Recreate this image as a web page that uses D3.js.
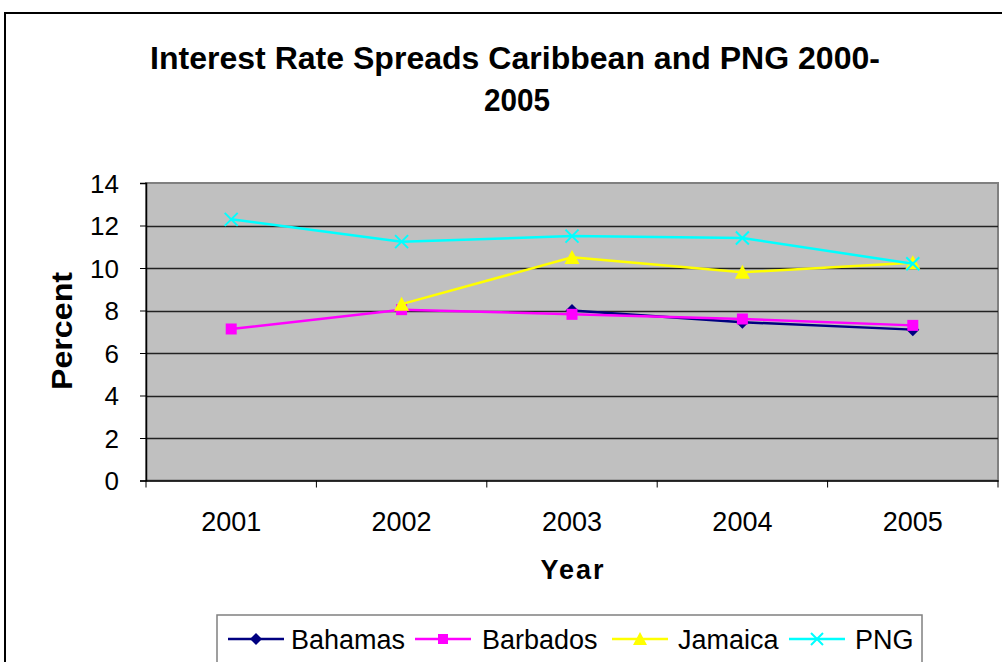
<!DOCTYPE html>
<html><head><meta charset="utf-8">
<script src="https://cdn.jsdelivr.net/npm/d3@7"></script>
<style>body{margin:0;background:#fff}svg{display:block}text{font-family:"Liberation Sans",Arial,sans-serif}</style>
</head><body>
<script>
const years = ["2001","2002","2003","2004","2005"];
const bahamas  = [null, null, 8.0, 7.45, 7.1];
const barbados = [7.13, 8.04, 7.82, 7.6, 7.3];
const jamaica  = [null, 8.3, 10.5, 9.8, 10.25];
const png      = [12.29, 11.24, 11.5, 11.41, 10.2];
const yTicks = [0,2,4,6,8,10,12,14];
const seriesNames = ["Bahamas","Barbados","Jamaica","PNG"];
const seriesColors = ["#000080","#FF00FF","#FFFF00","#00FFFF"];
const seriesMarkers = ["diamond","square","triangle","x"];
const seriesValues = [bahamas, barbados, jamaica, png];

const W = 1002, H = 662;
const svg = d3.select("body").append("svg").attr("width", W).attr("height", H);

// outer chart border
svg.append("rect").attr("x",5).attr("y",13).attr("width",1100).attr("height",800)
  .attr("fill","#fff").attr("stroke","#000").attr("stroke-width",2);

const pl = 146, pr = 998, pt = 183, pb = 480.5;
const x = d3.scaleBand().domain(years).range([pl, pr]);
const y = d3.scaleLinear().domain([0,14]).range([pb, pt]);

// plot area
svg.append("rect").attr("x",pl).attr("y",pt).attr("width",pr-pl).attr("height",pb-pt)
  .attr("fill","#C0C0C0").attr("stroke","#808080").attr("stroke-width",2);

// gridlines
svg.append("g").selectAll("line").data(yTicks.filter(d=>d>0 && d<14)).join("line")
  .attr("x1",pl).attr("x2",pr).attr("y1",d=>Math.round(y(d))+0.5).attr("y2",d=>Math.round(y(d))+0.5)
  .attr("stroke","#222").attr("stroke-width",1.5);

// y axis
const yAxis = svg.append("g").attr("transform",`translate(${pl},0)`)
  .call(d3.axisLeft(y).tickValues(yTicks).tickSize(6).tickPadding(21).tickFormat(d3.format("d")));
yAxis.select(".domain").attr("stroke","#000").attr("stroke-width",1.5);
yAxis.selectAll(".tick line").attr("stroke","#000");
yAxis.selectAll("text").attr("font-size",26).attr("fill","#000").attr("dy","0.36em")
  .attr("font-family","Liberation Sans, Arial, sans-serif");

// x axis
const xAxis = svg.append("g").attr("transform",`translate(0,${pb})`)
  .call(d3.axisBottom(x).tickSize(0).tickPadding(31));
xAxis.select(".domain").attr("stroke","#000").attr("stroke-width",1.5);
xAxis.selectAll("text").attr("font-size",27).attr("fill","#000")
  .attr("font-family","Liberation Sans, Arial, sans-serif");
// category boundary ticks
const bounds = years.map(d=>x(d)).concat([pr]);
svg.append("g").selectAll("line").data(bounds).join("line")
  .attr("x1",d=>d).attr("x2",d=>d).attr("y1",pb).attr("y2",pb+7).attr("stroke","#000").attr("stroke-width",1);

// series
const cx = d => x(d) + x.bandwidth()/2;
function markerPath(type, s) {
  const h = s/2;
  if (type==="diamond") return `M0,${-h}L${h},0L0,${h}L${-h},0Z`;
  if (type==="square") return `M${-h+1},${-h+1}H${h-1}V${h-1}H${-h+1}Z`;
  if (type==="triangle") return `M0,${-h-1}L${h+1},${h}L${-h-1},${h}Z`;
  return `M${-h},${-h}L${h},${h}M${h},${-h}L${-h},${h}`;
}
seriesValues.forEach((vals, i) => {
  const pts = years.map((yr,j)=>({yr, v: vals[j]})).filter(p=>p.v!==null);
  const line = d3.line().x(p=>cx(p.yr)).y(p=>y(p.v));
  const g = svg.append("g");
  g.append("path").attr("d", line(pts)).attr("fill","none").attr("stroke",seriesColors[i]).attr("stroke-width",2.5);
  g.selectAll("path.m").data(pts).join("path").attr("class","m")
    .attr("transform",p=>`translate(${cx(p.yr)},${y(p.v)})`)
    .attr("d", markerPath(seriesMarkers[i], 13))
    .attr("fill", seriesMarkers[i]==="x" ? "none" : seriesColors[i])
    .attr("stroke", seriesColors[i]).attr("stroke-width", seriesMarkers[i]==="x" ? 2 : 0);
});

// title
const title = svg.append("text").attr("text-anchor","middle").attr("font-weight","bold").attr("font-size",31).attr("fill","#000");
title.append("tspan").attr("x",515).attr("y",69).attr("textLength",730).attr("lengthAdjust","spacingAndGlyphs").text("Interest Rate Spreads Caribbean and PNG 2000-");
title.append("tspan").attr("x",517).attr("y",111).attr("textLength",66).attr("lengthAdjust","spacingAndGlyphs").text("2005");

// axis titles
svg.append("text").attr("x",572).attr("y",579).attr("text-anchor","middle").attr("font-weight","bold").attr("font-size",27).attr("fill","#000")
  .attr("textLength",63).attr("lengthAdjust","spacing").text("Year");
svg.append("text").attr("transform","translate(72,331) rotate(-90)").attr("text-anchor","middle").attr("font-weight","bold").attr("font-size",30).attr("fill","#000")
  .attr("textLength",118).attr("lengthAdjust","spacingAndGlyphs").text("Percent");

// legend
svg.append("rect").attr("x",217).attr("y",615).attr("width",705).attr("height",80).attr("fill","#fff").attr("stroke","#808080").attr("stroke-width",1.5);
const legLineX = [228, 415, 612, 789];
const legTextX = [291, 482, 678, 855];
seriesNames.forEach((n,i)=>{
  const g = svg.append("g").attr("transform",`translate(${legLineX[i]},639)`);
  g.append("line").attr("x1",0).attr("x2",56).attr("y1",0).attr("y2",0).attr("stroke",seriesColors[i]).attr("stroke-width",2.5);
  g.append("path").attr("transform","translate(28,0)").attr("d",markerPath(seriesMarkers[i],12))
    .attr("fill", seriesMarkers[i]==="x" ? "none" : seriesColors[i])
    .attr("stroke", seriesColors[i]).attr("stroke-width", seriesMarkers[i]==="x" ? 2 : 0);
  svg.append("text").attr("x",legTextX[i]).attr("y",649).attr("font-size",27).attr("fill","#000").text(n);
});
</script>
</body></html>
